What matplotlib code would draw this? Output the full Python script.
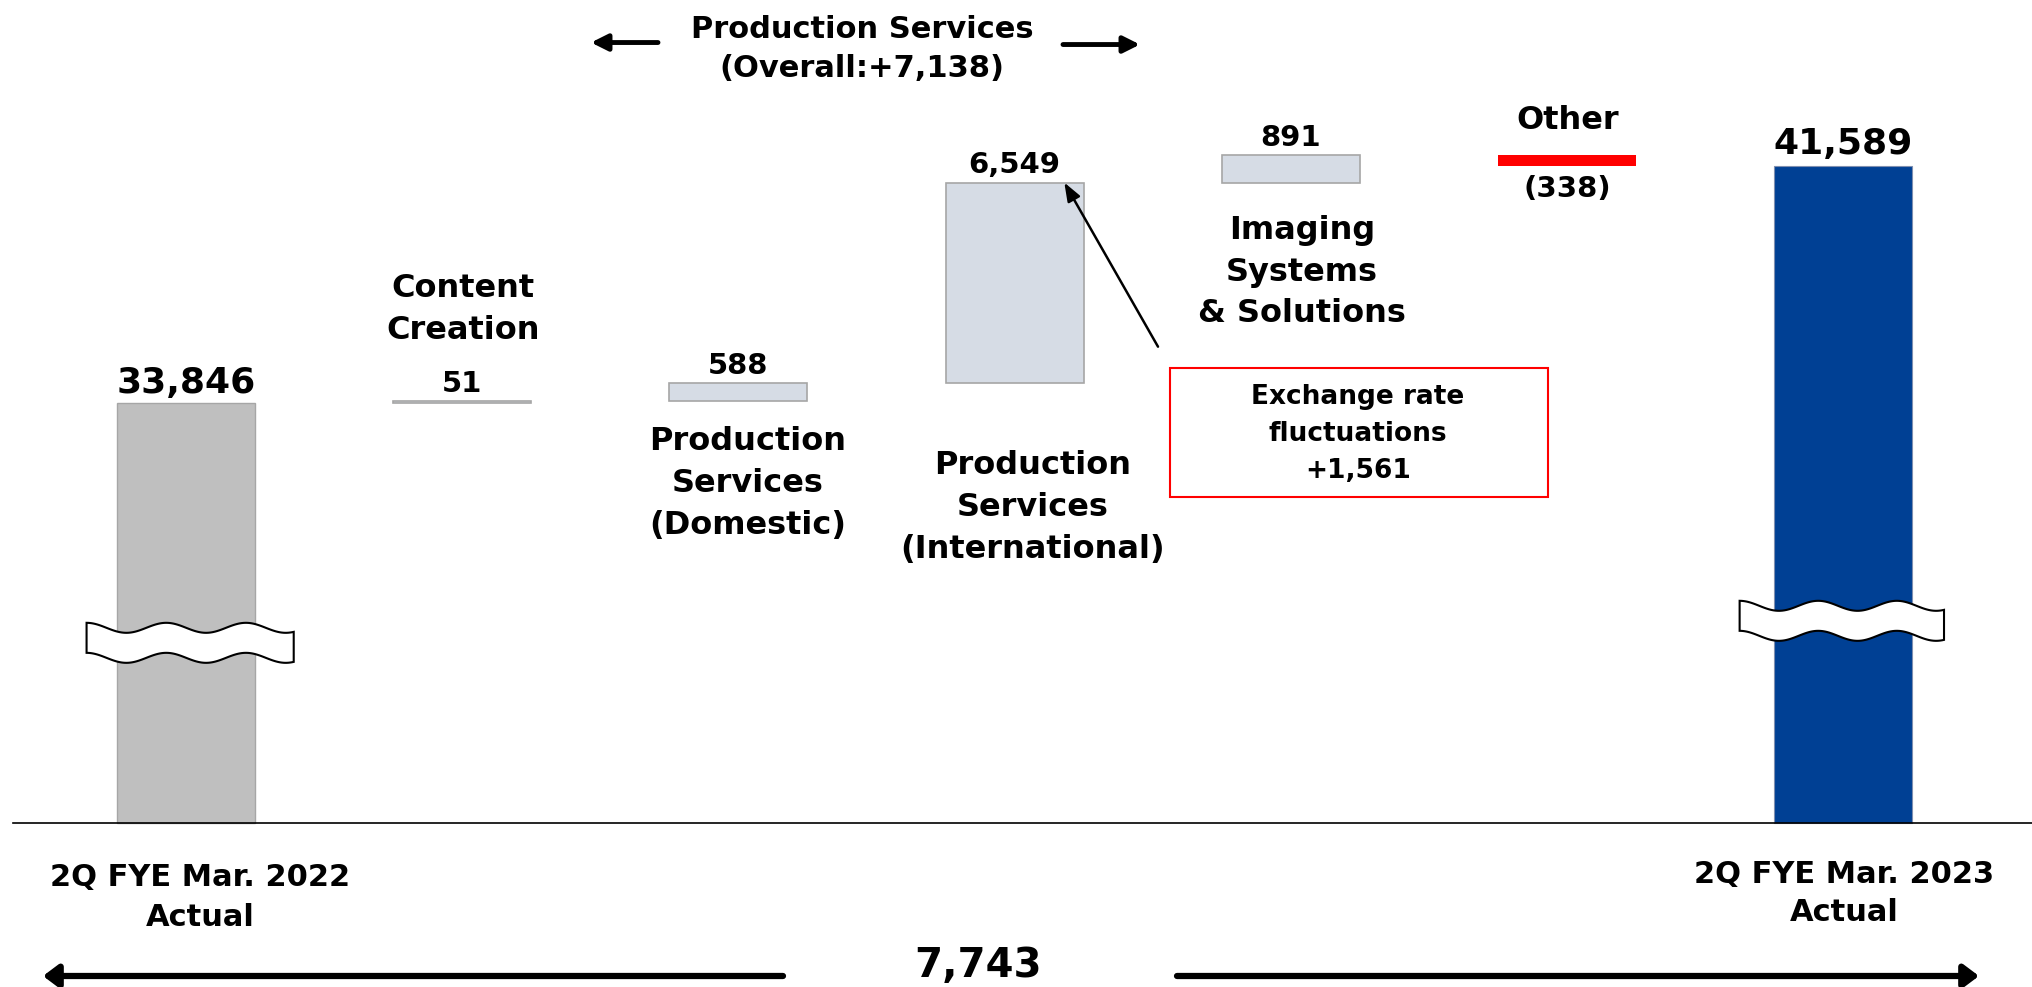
import matplotlib
matplotlib.use("Agg")
import matplotlib.pyplot as plt
from matplotlib.patches import Polygon
import numpy as np

plt.rcParams['font.family'] = ['DejaVu Sans']
plt.rcParams['font.weight'] = 'bold'

# data
start_label = "2Q FYE Mar. 2022\nActual"
end_label = "2Q FYE Mar. 2023\nActual"
start_value = 33846
end_value = 41589
step_names = ["Content\nCreation", "Production\nServices\n(Domestic)",
              "Production\nServices\n(International)",
              "Imaging\nSystems\n& Solutions", "Other"]
step_values = [51, 588, 6549, 891, -338]
step_texts = ["51", "588", "6,549", "891", "(338)"]
total_text = "7,743"
ps_note = "Production Services\n(Overall:+7,138)"
fx_note = "Exchange rate\nfluctuations\n+1,561"

W, H = 2032, 987
fig = plt.figure(figsize=(20.32, 9.875), dpi=100)
ax = fig.add_axes([0, 0, 1, 1])
ax.axis('off')

# scale: pixels per unit, and the hidden part of the axis (broken bars)
ppu = 0.03061
cut = 20125
base_px = 823
slot = 276.2
x0_px = 186
ax.set_xlim(-x0_px / slot, (W - x0_px) / slot)
ax.set_ylim(-(H - base_px) / ppu, base_px / ppu)

def fx(x, y):
    return (x / W, 1 - y / H)

bw = 0.5
n = len(step_values)
ax.bar(0, start_value - cut, width=bw, color='#BFBFBF', edgecolor='#A6A6A6', lw=1)
ax.bar(n + 1, end_value - cut, width=bw, color='#004094', edgecolor='#7F8FB0', lw=0.8)

level = start_value
tops = []
bots = []
for i, v in enumerate(step_values):
    new = level + v
    lo, hi = min(level, new), max(level, new)
    if v < 0:
        ax.bar(i + 1, hi - lo, bottom=lo - cut, width=bw, color='#FF0000', lw=0)
    else:
        ax.bar(i + 1, hi - lo, bottom=lo - cut, width=bw, color='#D6DCE5',
               edgecolor='#A6A6A6', lw=1.2)
    tops.append(hi - cut)
    bots.append(lo - cut)
    level = new

ax.axhline(0, xmin=13 / W, xmax=1, color='black', lw=1.2)

# break marks
def wave_break(xc, yc, hw, hh, amp):
    t = np.linspace(0, 1, 120)
    xs = xc - hw + 2 * hw * t
    w = amp * np.cos(2 * np.pi * 2.6 * t)
    top = np.column_stack([xs, yc + hh + w])
    bot = np.column_stack([xs[::-1], (yc - hh + w)[::-1]])
    ax.add_patch(Polygon(np.vstack([top, bot]), closed=True, facecolor='white',
                         edgecolor='black', lw=1.5, zorder=5))

wave_break(0.015, (base_px - 643) / ppu, 0.375, 15 / ppu, 5 / ppu)
wave_break(5.995, (base_px - 621) / ppu, 0.37, 15 / ppu, 5 / ppu)

# value labels
def vlab(x, y, s, dy, size):
    ax.annotate(s, xy=(x, y), xytext=(0, dy), textcoords='offset pixels',
                ha='center', va='center', fontsize=size)

vlab(0, start_value - cut, f"{start_value:,}", 20, 26)
vlab(n + 1, end_value - cut, f"{end_value:,}", 22, 26)
for i, v in enumerate(step_values):
    if v < 0:
        vlab(i + 1, bots[i], step_texts[i], -23, 21)
    else:
        vlab(i + 1, tops[i], step_texts[i], 18, 21)

# category labels
name_pos = [(463, 309), (748, 483), (1033, 507), (1302, 272), (1568, 120)]
for name, (px, py) in zip(step_names, name_pos):
    fig.text(*fx(px, py), name, ha='center', va='center', fontsize=23,
             linespacing=1.45)

fig.text(*fx(200, 897), start_label, ha='center', va='center', fontsize=22,
         linespacing=1.45)
fig.text(*fx(1844, 893), end_label, ha='center', va='center', fontsize=22,
         linespacing=1.4)

# production services header
fig.text(*fx(862, 49), ps_note, ha='center', va='center', fontsize=22,
         linespacing=1.45)
arr = dict(arrowstyle='-|>,head_length=0.7,head_width=0.35', lw=3.5,
           color='black', mutation_scale=14, shrinkA=0, shrinkB=0)
ax.annotate('', xy=fx(591, 43), xytext=fx(658, 43), xycoords='figure fraction',
            textcoords='figure fraction', arrowprops=arr)
ax.annotate('', xy=fx(1140, 45), xytext=fx(1063, 45), xycoords='figure fraction',
            textcoords='figure fraction', arrowprops=arr)

# exchange rate box and pointer
fig.text(*fx(1358, 434), fx_note, ha='center', va='center', fontsize=19,
         linespacing=1.55)
bx0, by0, bx1, by1 = 1170, 368, 1548, 497
fig.patches.append(plt.Rectangle(fx(bx0, by1), (bx1 - bx0) / W, (by1 - by0) / H,
                                 transform=fig.transFigure, fill=False,
                                 edgecolor='#FF0000', lw=1.5))
ax.annotate('', xy=(3.18, tops[2]), xytext=fx(1158, 347),
            textcoords='figure fraction',
            arrowprops=dict(arrowstyle='-|>,head_length=0.8,head_width=0.3',
                            lw=1.8, color='black', mutation_scale=14,
                            shrinkA=0, shrinkB=0))

# total change arrows
fig.text(*fx(978, 966), total_text, ha='center', va='center', fontsize=29)
arr2 = dict(arrowstyle='-|>,head_length=0.6,head_width=0.45', lw=4.5,
            color='black', mutation_scale=15, shrinkA=0, shrinkB=0)
ax.annotate('', xy=fx(43, 976), xytext=fx(783, 976), xycoords='figure fraction',
            textcoords='figure fraction', arrowprops=arr2)
ax.annotate('', xy=fx(1979, 976), xytext=fx(1177, 976), xycoords='figure fraction',
            textcoords='figure fraction', arrowprops=arr2)

fig.savefig('out.png', dpi=100)
